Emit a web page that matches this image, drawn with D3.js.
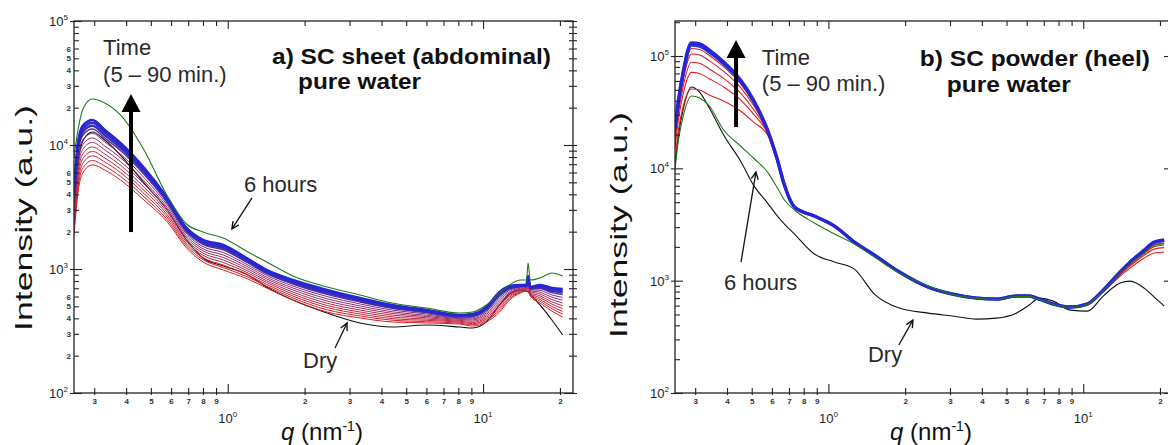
<!DOCTYPE html>
<html><head><meta charset="utf-8">
<script src="https://cdn.jsdelivr.net/npm/d3@7"></script>
<style>
body{margin:0;background:#fff;}
svg{display:block;font-family:"Liberation Sans",Arial,sans-serif;}
</style></head><body>
<svg id="chart" width="1168" height="445"></svg>
<script>
// ---------- DATA (intensities stored as log10 of I, a.u.) ----------
const qDomain = [0.25, 22.5];
const xMinorTicks = [0.3,0.4,0.5,0.6,0.7,0.8,0.9,2,3,4,5,6,7,8,9,20];
const xMajorTicks = [1, 10];
const xMajorLabels = ["0", "1"];
const yMajorTicks = [100, 1000, 10000, 100000];
const yMajorLabels = ["2", "3", "4", "5"];
const yMinorTicksLeft = [200,300,400,500,600,700,800,900,2000,3000,4000,5000,6000,7000,8000,9000,20000,30000,40000,50000,60000,70000,80000,90000];
const yMinorLabelTicksLeft = [200,300,400,500,600,2000,3000,4000,5000,6000,20000,30000,40000,50000,60000];
const yMinorTicksRight = [200,300,400,500,600,700,800,900,2000,3000,4000,5000,6000,7000,8000,9000,20000,30000,40000,50000,60000,70000,80000,90000,200000];

// a) SC sheet (abdominal)
const qLeft = [0.25,0.26,0.272,0.295,0.33,0.38,0.47,0.58,0.69,0.80,0.96,1.2,1.42,1.8,2.45,3.3,4.4,6.0,8.1,9.1,10.3,11.6,12.7,14.0,14.8,15.0,15.3,16.7,18.6,20.5];
const leftTime = [
 [3.274,3.637,3.782,3.839,3.798,3.718,3.556,3.379,3.169,3.057,2.992,2.919,2.847,2.750,2.653,2.605,2.573,2.565,2.556,2.540,2.573,2.653,2.750,2.806,2.823,2.823,2.782,2.726,2.661,2.613],
 [3.310,3.677,3.820,3.875,3.830,3.748,3.582,3.398,3.185,3.075,3.012,2.935,2.862,2.766,2.671,2.621,2.587,2.575,2.563,2.550,2.585,2.669,2.761,2.813,2.828,2.835,2.789,2.741,2.680,2.636],
 [3.347,3.718,3.858,3.912,3.863,3.778,3.608,3.418,3.201,3.092,3.032,2.951,2.876,2.782,2.689,2.637,2.600,2.586,2.571,2.559,2.597,2.685,2.773,2.819,2.833,2.847,2.797,2.755,2.698,2.658],
 [3.383,3.758,3.896,3.948,3.895,3.807,3.634,3.437,3.218,3.110,3.053,2.968,2.891,2.798,2.706,2.653,2.614,2.596,2.578,2.569,2.609,2.702,2.784,2.826,2.837,2.859,2.804,2.770,2.717,2.681],
 [3.419,3.798,3.934,3.984,3.927,3.837,3.660,3.457,3.234,3.128,3.073,2.984,2.905,2.814,2.724,2.669,2.628,2.607,2.585,2.579,2.621,2.718,2.795,2.832,2.842,2.871,2.811,2.784,2.735,2.703],
 [3.456,3.839,3.972,4.021,3.960,3.867,3.686,3.476,3.250,3.146,3.093,3.000,2.920,2.831,2.742,2.686,2.642,2.617,2.593,2.589,2.634,2.734,2.807,2.839,2.847,2.884,2.819,2.799,2.754,2.726],
 [3.492,3.879,4.009,4.057,3.992,3.897,3.711,3.495,3.266,3.163,3.113,3.016,2.934,2.847,2.760,2.702,2.655,2.627,2.600,2.598,2.646,2.750,2.818,2.845,2.852,2.896,2.826,2.813,2.773,2.749],
 [3.528,3.919,4.047,4.093,4.024,3.927,3.737,3.515,3.282,3.181,3.133,3.032,2.949,2.863,2.778,2.718,2.669,2.638,2.607,2.608,2.658,2.766,2.829,2.852,2.857,2.908,2.833,2.828,2.791,2.771],
 [3.564,3.959,4.085,4.129,4.056,3.956,3.763,3.534,3.299,3.199,3.154,3.049,2.963,2.879,2.795,2.734,2.683,2.648,2.614,2.618,2.670,2.783,2.840,2.858,2.861,2.920,2.840,2.842,2.810,2.794],
 [3.590,3.988,4.112,4.155,4.079,3.977,3.781,3.548,3.310,3.211,3.168,3.060,2.973,2.890,2.808,2.745,2.692,2.655,2.620,2.624,2.678,2.794,2.848,2.863,2.865,2.928,2.846,2.852,2.823,2.810],
 [3.615,4.016,4.138,4.180,4.102,3.998,3.799,3.561,3.321,3.223,3.182,3.071,2.983,2.901,2.820,2.756,2.702,2.663,2.625,2.631,2.687,2.805,2.856,2.867,2.868,2.937,2.851,2.862,2.836,2.825],
 [3.637,4.040,4.161,4.202,4.121,4.016,3.815,3.573,3.331,3.234,3.194,3.081,2.992,2.911,2.831,2.766,2.710,2.669,2.629,2.637,2.694,2.815,2.863,2.871,2.871,2.944,2.855,2.871,2.847,2.839]
];
const leftSixHours = [3.903,4.137,4.298,4.371,4.339,4.242,3.960,3.589,3.363,3.298,3.250,3.137,3.057,2.944,2.855,2.790,2.726,2.685,2.645,2.653,2.710,2.806,2.871,2.911,2.911,3.048,2.911,2.927,2.968,2.944];
const leftDry = [3.436,3.879,4.040,4.105,4.040,3.919,3.694,3.476,3.234,3.089,3.024,2.952,2.855,2.750,2.645,2.565,2.532,2.548,2.532,2.524,2.573,2.710,2.798,2.831,2.823,2.815,2.798,2.710,2.589,2.468];

// b) SC powder (heel)
const qRight = [0.25,0.258,0.27,0.29,0.312,0.341,0.388,0.452,0.508,0.577,0.631,0.672,0.736,0.881,1.056,1.264,1.515,1.898,2.466,3.064,3.805,4.56,5.46,6.14,6.72,7.63,8.89,10.37,11.98,13.96,15.28,17.34,18.98,20.78];
const rightTime = [
 [4.074,4.341,4.564,4.706,4.697,4.653,4.599,4.510,4.412,4.296,4.056,3.851,3.655,3.575,3.486,3.344,3.228,3.077,2.943,2.881,2.845,2.836,2.863,2.863,2.836,2.792,2.765,2.792,2.898,3.041,3.112,3.201,3.246,3.255],
 [4.177,4.437,4.676,4.854,4.845,4.797,4.724,4.609,4.483,4.312,4.062,3.851,3.655,3.575,3.486,3.344,3.228,3.077,2.943,2.881,2.845,2.836,2.863,2.863,2.836,2.792,2.765,2.792,2.904,3.054,3.131,3.227,3.281,3.294],
 [4.239,4.496,4.744,4.944,4.935,4.885,4.801,4.670,4.526,4.322,4.066,3.851,3.655,3.575,3.486,3.344,3.228,3.077,2.943,2.881,2.845,2.836,2.863,2.863,2.836,2.792,2.765,2.792,2.908,3.062,3.143,3.242,3.303,3.317],
 [4.291,4.544,4.800,5.018,5.009,4.957,4.863,4.720,4.561,4.330,4.070,3.851,3.655,3.575,3.486,3.344,3.228,3.077,2.943,2.881,2.845,2.836,2.863,2.863,2.836,2.792,2.765,2.792,2.912,3.068,3.153,3.255,3.320,3.336],
 [4.325,4.576,4.838,5.067,5.058,5.005,4.905,4.753,4.584,4.336,4.072,3.851,3.655,3.575,3.486,3.344,3.228,3.077,2.943,2.881,2.845,2.836,2.863,2.863,2.836,2.792,2.765,2.792,2.914,3.073,3.160,3.263,3.332,3.349],
 [4.345,4.595,4.859,5.096,5.087,5.033,4.930,4.772,4.598,4.339,4.073,3.851,3.655,3.575,3.486,3.344,3.228,3.077,2.943,2.881,2.845,2.836,2.863,2.863,2.836,2.792,2.765,2.792,2.915,3.075,3.163,3.268,3.339,3.357],
 [4.359,4.608,4.875,5.116,5.107,5.053,4.947,4.786,4.608,4.341,4.074,3.851,3.655,3.575,3.486,3.344,3.228,3.077,2.943,2.881,2.845,2.836,2.863,2.863,2.836,2.792,2.765,2.792,2.916,3.077,3.166,3.272,3.344,3.362]
];
const rightSixHours = [3.997,4.252,4.475,4.644,4.626,4.555,4.341,4.199,4.092,3.967,3.825,3.718,3.629,3.513,3.415,3.326,3.210,3.068,2.952,2.878,2.842,2.833,2.860,2.860,2.833,2.790,2.763,2.790,2.910,3.065,3.150,3.245,3.315,3.330];
const rightDry = [4.019,4.297,4.537,4.724,4.679,4.537,4.297,4.065,3.851,3.691,3.575,3.504,3.415,3.237,3.166,3.103,2.881,2.756,2.711,2.685,2.658,2.667,2.711,2.783,2.845,2.818,2.738,2.729,2.863,2.979,2.996,2.934,2.854,2.774];

// ---------- STYLE / LAYOUT ----------
const leftColors = ["#e3191c","#d81d2a","#cc2136","#c02542","#b0294f","#a02d5e","#8e2f6e","#7a2f80","#5c2e9a","#3c2cb8","#2e2bca","#2525d6"];
const leftWidths = [1,1,1,1,1,1,1,1,1.4,2.4,2.4,2.6];
const rightColors = ["#e3191c","#e01e1e","#d82222","#cf2428","#c8262e","#3030c8","#2525d6"];
const rightWidths = [1.1,1.1,1.1,1.1,1.1,3,3.4];

const svg = d3.select("#chart");
const defs = svg.append("defs");
const digit = d => String(Math.round(d / Math.pow(10, Math.floor(Math.log10(d) + 1e-9))));

function styleAxis(sel, size, weight) {
  sel.select(".domain").remove();
  sel.selectAll("line").attr("stroke", "#222").attr("stroke-width", 1.1);
  sel.attr("font-family", "Liberation Sans, Arial, sans-serif").attr("font-size", size || 8).attr("font-weight", weight || "bold");
  sel.selectAll("text").attr("fill", "#333");
}

function drawPanel(p) {
  const x = d3.scaleLog().domain(qDomain).range([p.left, p.right]);
  const y = d3.scaleLog().domain(p.yDomain).range([p.bottom, p.top]);
  const g = svg.append("g");
  defs.append("clipPath").attr("id", "clip" + p.id).append("rect")
    .attr("x", p.left).attr("y", p.top).attr("width", p.right - p.left).attr("height", p.bottom - p.top);
  const plot = g.append("g").attr("clip-path", `url(#clip${p.id})`);
  const line = d3.line().x((d, i) => x(p.q[i])).y(d => y(Math.pow(10, d))).curve(d3.curveMonotoneX);

  plot.append("path").attr("d", line(p.dry)).attr("fill", "none").attr("stroke", "#111").attr("stroke-width", 1.1);
  p.time.forEach((arr, i) => {
    plot.append("path").attr("d", line(arr)).attr("fill", "none")
      .attr("stroke", p.colors[i]).attr("stroke-width", p.widths[i]).attr("stroke-linejoin", "round");
  });
  plot.append("path").attr("d", line(p.six)).attr("fill", "none").attr("stroke", "#1d7a1d").attr("stroke-width", 1.1);

  // frame
  g.append("rect").attr("x", p.left).attr("y", p.top).attr("width", p.right - p.left).attr("height", p.bottom - p.top)
    .attr("fill", "none").attr("stroke", "#222").attr("stroke-width", 1.3);

  // bottom ticks (inward)
  g.append("g").attr("transform", `translate(0,${p.bottom})`)
    .call(d3.axisTop(x).tickValues(xMinorTicks).tickSize(5).tickFormat("")).call(s => styleAxis(s));
  g.append("g").attr("transform", `translate(0,${p.bottom})`)
    .call(d3.axisTop(x).tickValues(xMajorTicks).tickSize(9).tickFormat("")).call(s => styleAxis(s));
  // bottom minor labels
  g.append("g").attr("transform", `translate(0,${p.bottom})`)
    .call(d3.axisBottom(x).tickValues(xMinorTicks).tickSize(2).tickPadding(3).tickFormat(digit)).call(s => styleAxis(s, 8, "bold"));
  // top ticks (inward)
  g.append("g").attr("transform", `translate(0,${p.top})`)
    .call(d3.axisBottom(x).tickValues(xMinorTicks).tickSize(5).tickFormat("")).call(s => styleAxis(s));
  g.append("g").attr("transform", `translate(0,${p.top})`)
    .call(d3.axisBottom(x).tickValues(xMajorTicks).tickSize(8).tickFormat("")).call(s => styleAxis(s));
  // major x labels 10^n
  xMajorTicks.forEach((v, i) => {
    const t = g.append("text").attr("x", x(v)).attr("y", p.bottom + 30).attr("text-anchor", "middle")
      .attr("font-size", 13).attr("fill", "#222");
    t.append("tspan").text("10");
    t.append("tspan").attr("dy", -6).attr("font-size", 8).text(xMajorLabels[i]);
  });

  // left y ticks
  g.append("g").attr("transform", `translate(${p.left},0)`)
    .call(d3.axisRight(y).tickValues(p.yMinor).tickSize(5).tickFormat("")).call(s => styleAxis(s));
  g.append("g").attr("transform", `translate(${p.left},0)`)
    .call(d3.axisRight(y).tickValues(yMajorTicks).tickSize(8).tickFormat("")).call(s => styleAxis(s));
  g.append("g").attr("transform", `translate(${p.left},0)`)
    .call(d3.axisLeft(y).tickValues(yMajorTicks).tickSize(4).tickFormat("")).call(s => styleAxis(s));
  if (p.yMinorLabels) {
    g.append("g").attr("transform", `translate(${p.left},0)`)
      .call(d3.axisLeft(y).tickValues(p.yMinorLabels).tickSize(0).tickPadding(3).tickFormat(digit)).call(s => styleAxis(s, 8, "bold"));
  }
  yMajorTicks.forEach((v, i) => {
    const t = g.append("text").attr("x", p.left - 6).attr("y", y(v) + 5).attr("text-anchor", "end")
      .attr("font-size", 13).attr("fill", "#222");
    t.append("tspan").text("10");
    t.append("tspan").attr("dy", -6).attr("font-size", 8).text(yMajorLabels[i]);
  });
  // right y ticks
  g.append("g").attr("transform", `translate(${p.right},0)`)
    .call(d3.axisLeft(y).tickValues(p.yMinor).tickSize(4).tickFormat("")).call(s => styleAxis(s));
  g.append("g").attr("transform", `translate(${p.right},0)`)
    .call(d3.axisLeft(y).tickValues(yMajorTicks).tickSize(9).tickFormat("")).call(s => styleAxis(s));
  if (p.rightOut) {
    g.append("g").attr("transform", `translate(${p.right},0)`)
      .call(d3.axisRight(y).tickValues(p.yMinor.concat(yMajorTicks)).tickSize(4).tickFormat("")).call(s => styleAxis(s));
  }

  // axis titles
  g.append("text").attr("transform", `translate(${p.yTitleX},${p.yTitleY}) rotate(-90)`)
    .attr("text-anchor", "middle").attr("font-size", 24).attr("fill", "#111")
    .attr("textLength", 226).attr("lengthAdjust", "spacingAndGlyphs").text("Intensity (a.u.)");
  const xt = g.append("text").attr("x", p.xTitleX).attr("y", 440).attr("text-anchor", "middle")
    .attr("font-size", 24).attr("fill", "#111");
  xt.append("tspan").attr("font-style", "italic").text("q");
  xt.append("tspan").text(" (nm");
  xt.append("tspan").attr("dy", -9).attr("font-size", 14).text("-1");
  xt.append("tspan").attr("dy", 9).text(")");

  // annotations (placed in data coordinates)
  const a = p.annot;
  const bx = x(a.big.q), btip = y(Math.pow(10, a.big.to)), bbot = y(Math.pow(10, a.big.from));
  g.append("line").attr("x1", bx).attr("x2", bx).attr("y1", bbot).attr("y2", btip + 16)
    .attr("stroke", "#000").attr("stroke-width", 4);
  g.append("path").attr("d", `M${bx - 9.5},${btip + 18}L${bx},${btip}L${bx + 9.5},${btip + 18}Z`).attr("fill", "#000");

  a.arrows.forEach(ar => {
    const x0 = x(ar.q0), y0 = y(Math.pow(10, ar.L0)), x1 = x(ar.q1), y1 = y(Math.pow(10, ar.L1));
    g.append("line").attr("x1", x0).attr("y1", y0).attr("x2", x1).attr("y2", y1).attr("stroke", "#111").attr("stroke-width", 1.3);
    const ang = Math.atan2(y1 - y0, x1 - x0), L = 8;
    const pA = [x1 - L * Math.cos(ang - 0.45), y1 - L * Math.sin(ang - 0.45)];
    const pB = [x1 - L * Math.cos(ang + 0.45), y1 - L * Math.sin(ang + 0.45)];
    g.append("path").attr("d", `M${pA[0]},${pA[1]}L${x1},${y1}L${pB[0]},${pB[1]}`)
      .attr("fill", "none").attr("stroke", "#111").attr("stroke-width", 1.4);
  });
  a.texts.forEach(t => {
    const el = g.append("text").attr("x", x(t.q)).attr("y", y(Math.pow(10, t.L)))
      .attr("font-size", t.size).attr("font-weight", t.weight)
      .attr("fill", t.weight === "bold" ? "#111" : "#2a2a2a").text(t.text);
    if (t.len) el.attr("textLength", t.len).attr("lengthAdjust", "spacingAndGlyphs");
  });
}

drawPanel({
  id: "L", left: 74, right: 573, top: 21, bottom: 393, yDomain: [100, 1e5],
  q: qLeft, time: leftTime, six: leftSixHours, dry: leftDry, colors: leftColors, widths: leftWidths,
  yMinor: yMinorTicksLeft, yMinorLabels: yMinorLabelTicksLeft, rightOut: true,
  yTitleX: 32, yTitleY: 218, xTitleX: 322,
  annot: {
    big: {q: 0.418, from: 3.298, to: 4.411},
    arrows: [{q0: 1.245, L0: 3.573, q1: 1.039, L1: 3.323}, {q0: 2.632, L0: 2.363, q1: 2.933, L1: 2.565}],
    texts: [
      {q: 0.325, L: 4.726, text: "Time", size: 22, weight: "normal"},
      {q: 0.325, L: 4.508, text: "(5 – 90 min.)", size: 22, weight: "normal"},
      {q: 1.491, L: 4.653, text: "a) SC sheet (abdominal)", size: 22, weight: "bold", len: 279},
      {q: 1.886, L: 4.448, text: "pure water", size: 22, weight: "bold", len: 123},
      {q: 1.158, L: 3.621, text: "6 hours", size: 22, weight: "normal"},
      {q: 1.972, L: 2.202, text: "Dry", size: 22, weight: "normal"}
    ]
  }
});

drawPanel({
  id: "R", left: 675, right: 1173, top: 21, bottom: 393, yDomain: [100, 2.05e5],
  q: qRight, time: rightTime, six: rightSixHours, dry: rightDry, colors: rightColors, widths: rightWidths,
  yMinor: yMinorTicksRight, yMinorLabels: null, rightOut: false,
  yTitleX: 627, yTitleY: 225, xTitleX: 931,
  annot: {
    big: {q: 0.434, from: 4.368, to: 5.143},
    arrows: [{q0: 0.454, L0: 3.166, q1: 0.5195, L1: 3.967}, {q0: 1.890, L0: 2.427, q1: 2.145, L1: 2.649}],
    texts: [
      {q: 0.548, L: 4.920, text: "Time", size: 22, weight: "normal"},
      {q: 0.548, L: 4.688, text: "(5 – 90 min.)", size: 22, weight: "normal"},
      {q: 2.285, L: 4.911, text: "b) SC powder (heel)", size: 22, weight: "bold", len: 230},
      {q: 2.915, L: 4.684, text: "pure water", size: 22, weight: "bold", len: 124},
      {q: 0.389, L: 2.916, text: "6 hours", size: 22, weight: "normal"},
      {q: 1.429, L: 2.275, text: "Dry", size: 22, weight: "normal"}
    ]
  }
});
</script>
</body></html>
